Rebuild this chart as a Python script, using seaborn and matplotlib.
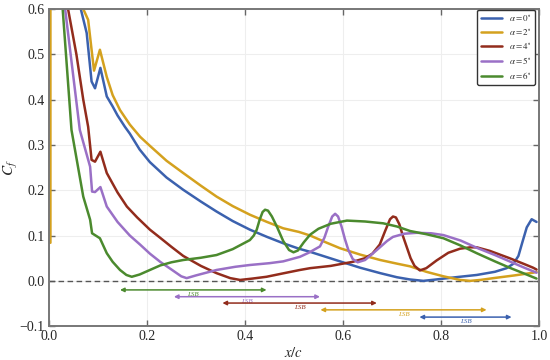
import numpy as np
import pandas as pd
import matplotlib
matplotlib.use("Agg")
import matplotlib.pyplot as plt
import seaborn as sns

# ---------------- data ----------------
x_a0 = [0.0, 0.05, 0.065, 0.077, 0.087, 0.094, 0.105, 0.118, 0.13, 0.14, 0.155, 0.165,
        0.185, 0.206, 0.24, 0.274, 0.31, 0.342, 0.375, 0.41, 0.445, 0.478, 0.51, 0.533,
        0.565, 0.594, 0.635, 0.676, 0.71, 0.737, 0.764, 0.79, 0.83, 0.873, 0.91, 0.934,
        0.948, 0.958, 0.966, 0.975, 0.985, 0.995]
y_a0 = [3.0, 0.9, 0.60, 0.547, 0.44, 0.425, 0.47, 0.407, 0.385, 0.365, 0.34, 0.325,
        0.29, 0.262, 0.228, 0.201, 0.175, 0.153, 0.132, 0.113, 0.097, 0.083, 0.071, 0.064,
        0.053, 0.043, 0.029, 0.017, 0.008, 0.003, 0.0, 0.003, 0.008, 0.013, 0.02, 0.028,
        0.038, 0.055, 0.085, 0.118, 0.136, 0.13]

x_a2 = [0.003, 0.003, 0.03, 0.07, 0.080, 0.087, 0.092, 0.104, 0.118, 0.13, 0.145, 0.165,
        0.186, 0.206, 0.24, 0.274, 0.31, 0.342, 0.375, 0.41, 0.445, 0.478, 0.51, 0.533,
        0.565, 0.594, 0.635, 0.676, 0.71, 0.737, 0.77, 0.805, 0.839, 0.86, 0.88, 0.907,
        0.95, 0.988, 0.995]
y_a2 = [0.084, 3.0, 1.5, 0.60, 0.576, 0.51, 0.464, 0.51, 0.45, 0.41, 0.377, 0.345,
        0.318, 0.298, 0.265, 0.238, 0.21, 0.186, 0.165, 0.146, 0.13, 0.116, 0.108, 0.100,
        0.085, 0.072, 0.058, 0.046, 0.038, 0.032, 0.02, 0.010, 0.002, 0.0, 0.002, 0.006,
        0.012, 0.018, 0.02]

x_a4 = [0.0, 0.02, 0.039, 0.056, 0.07, 0.08, 0.087, 0.094, 0.105, 0.118, 0.14, 0.159,
        0.18, 0.206, 0.227, 0.25, 0.274, 0.31, 0.342, 0.37, 0.39, 0.415, 0.444, 0.48,
        0.512, 0.533, 0.575, 0.62, 0.645, 0.66, 0.675, 0.686, 0.696, 0.702, 0.708, 0.715,
        0.722, 0.73, 0.738, 0.746, 0.757, 0.77, 0.791, 0.815, 0.839, 0.86, 0.873, 0.9,
        0.94, 0.97, 0.988, 0.995]
y_a4 = [3.0, 1.5, 0.60, 0.50, 0.40, 0.34, 0.267, 0.263, 0.285, 0.238, 0.195, 0.164,
        0.14, 0.113, 0.095, 0.075, 0.055, 0.033, 0.017, 0.006, 0.002, 0.005, 0.009, 0.017,
        0.024, 0.028, 0.033, 0.042, 0.05, 0.06, 0.08, 0.11, 0.136, 0.142, 0.14, 0.125,
        0.1, 0.075, 0.05, 0.033, 0.023, 0.028, 0.045, 0.062, 0.071, 0.074, 0.074, 0.066,
        0.05, 0.037, 0.029, 0.025]

x_a5 = [0.0, 0.02, 0.033, 0.063, 0.084, 0.088, 0.094, 0.105, 0.118, 0.14, 0.165, 0.186,
        0.206, 0.227, 0.25, 0.27, 0.281, 0.3, 0.342, 0.38, 0.41, 0.45, 0.478, 0.512,
        0.53, 0.553, 0.562, 0.57, 0.578, 0.584, 0.59, 0.597, 0.604, 0.611, 0.62, 0.63,
        0.645, 0.669, 0.69, 0.702, 0.725, 0.75, 0.78, 0.805, 0.84, 0.873, 0.91, 0.94,
        0.97, 0.995]
y_a5 = [3.0, 1.2, 0.60, 0.333, 0.252, 0.197, 0.196, 0.207, 0.164, 0.13, 0.1, 0.08,
        0.06, 0.042, 0.025, 0.01, 0.006, 0.012, 0.024, 0.031, 0.035, 0.039, 0.043, 0.053,
        0.062, 0.076, 0.095, 0.12, 0.142, 0.148, 0.142, 0.12, 0.092, 0.068, 0.048, 0.041,
        0.046, 0.068, 0.088, 0.097, 0.104, 0.106, 0.105, 0.101, 0.089, 0.073, 0.057, 0.043,
        0.029, 0.018]

x_a6 = [0.0, 0.015, 0.028, 0.046, 0.07, 0.084, 0.088, 0.104, 0.118, 0.13, 0.145, 0.158,
        0.169, 0.185, 0.206, 0.227, 0.25, 0.274, 0.31, 0.342, 0.375, 0.41, 0.418, 0.424,
        0.43, 0.436, 0.441, 0.447, 0.455, 0.465, 0.478, 0.49, 0.499, 0.508, 0.52, 0.533,
        0.55, 0.575, 0.608, 0.645, 0.682, 0.71, 0.737, 0.77, 0.805, 0.84, 0.873, 0.91,
        0.94, 0.97, 0.995]
y_a6 = [3.0, 1.2, 0.60, 0.333, 0.186, 0.135, 0.105, 0.094, 0.061, 0.042, 0.024, 0.013,
        0.009, 0.014, 0.024, 0.034, 0.041, 0.046, 0.051, 0.057, 0.07, 0.09, 0.1, 0.113,
        0.135, 0.152, 0.157, 0.155, 0.142, 0.12, 0.088, 0.068, 0.063, 0.067, 0.085, 0.102,
        0.115, 0.126, 0.133, 0.131, 0.127, 0.12, 0.11, 0.103, 0.094, 0.078, 0.061, 0.043,
        0.029, 0.016, 0.005]

labels = [r"$\alpha=0^{\circ}$", r"$\alpha=2^{\circ}$", r"$\alpha=4^{\circ}$",
          r"$\alpha=5^{\circ}$", r"$\alpha=6^{\circ}$"]
colors = ["#3b61ae", "#d4a11e", "#922c1c", "#9a70c6", "#4b8a2e"]

# laminar separation bubbles (start, end, y level), order: 6,5,4,2,0 deg
lsb_start = [0.145, 0.255, 0.354, 0.554, 0.756]
lsb_end = [0.444, 0.553, 0.669, 0.893, 0.944]
lsb_y = [-0.020, -0.035, -0.049, -0.064, -0.080]
lsb_colors = [colors[4], colors[3], colors[2], colors[1], colors[0]]

# ---------------- build long table ----------------
frames = []
for xs, ys, lab in zip([x_a0, x_a2, x_a4, x_a5, x_a6],
                       [y_a0, y_a2, y_a4, y_a5, y_a6], labels):
    frames.append(pd.DataFrame({"x": xs, "Cf": ys, "case": lab}))
df = pd.concat(frames, ignore_index=True)

# ---------------- style ----------------
sns.set_theme(style="ticks")
plt.rcParams["font.family"] = ["Liberation Serif", "DejaVu Serif"]
plt.rcParams["mathtext.fontset"] = "stix"

fig = plt.figure(figsize=(5.5, 3.6), dpi=100)
ax = fig.add_axes([0.089, 0.094, 0.891, 0.881])

sns.lineplot(data=df, x="x", y="Cf", hue="case", hue_order=labels,
             palette=colors, sort=False, estimator=None, units="case",
             lw=1.8, ax=ax, legend=True)

ax.axhline(0.0, color="#555555", lw=1.0, ls=(0, (4, 2.5)), zorder=1)

for s, e, yy, c in zip(lsb_start, lsb_end, lsb_y, lsb_colors):
    ax.annotate("", xy=(e, yy), xytext=(s, yy),
                arrowprops=dict(arrowstyle="<|-|>", color=c, lw=1.1,
                                mutation_scale=6, shrinkA=0, shrinkB=0))
    ax.text((s + e) / 2, yy - 0.004, "LSB", color=c, fontsize=5,
            style="italic", ha="center", va="top")

ax.set_xlim(0, 1)
ax.set_ylim(-0.1, 0.6)
ax.set_xticks([0.0, 0.2, 0.4, 0.6, 0.8, 1.0])
ax.set_yticks([-0.1, 0.0, 0.1, 0.2, 0.3, 0.4, 0.5, 0.6])
ax.set_xticklabels(["0.0", "0.2", "0.4", "0.6", "0.8", "1.0"])
ax.set_yticklabels(["\u22120.1", "0.0", "0.1", "0.2", "0.3", "0.4", "0.5", "0.6"])
ax.grid(True, color="#eeeeee", lw=0.8)
ax.set_axisbelow(True)
ax.tick_params(direction="in", top=True, right=True, length=4, width=1,
               color="#666666", labelsize=10, pad=3)
for sp in ax.spines.values():
    sp.set_color("#777777")
    sp.set_linewidth(1.4)

ax.set_xlabel(r"$x/c$", fontsize=10.5, labelpad=2)
ax.set_ylabel(r"$C_f$", fontsize=11)
ax.yaxis.set_label_coords(-0.06, 0.5)

handles, _ = ax.get_legend_handles_labels()
for h in handles:
    h.set_linewidth(1.8)
leg = ax.legend(handles, labels, loc="upper right", bbox_to_anchor=(0.992, 0.998),
                borderaxespad=0.0, fontsize=6.5, frameon=True, fancybox=True,
                handlelength=2.3, handletextpad=0.8, labelspacing=0.45,
                borderpad=0.4)
leg.get_frame().set_edgecolor("#333333")
leg.get_frame().set_linewidth(1.0)
leg.get_frame().set_alpha(1.0)

fig.savefig("out.png", dpi=100)
